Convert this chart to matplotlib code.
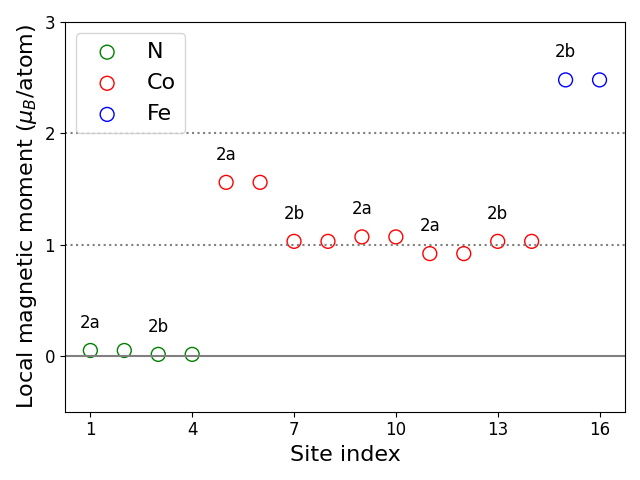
import matplotlib
matplotlib.use("Agg")
import matplotlib.pyplot as plt

sites_N = [1, 2, 3, 4]
mom_N = [0.05, 0.05, 0.015, 0.015]
sites_Co = [5, 6, 7, 8, 9, 10, 11, 12, 13, 14]
mom_Co = [1.56, 1.56, 1.03, 1.03, 1.07, 1.07, 0.92, 0.92, 1.03, 1.03]
sites_Fe = [15, 16]
mom_Fe = [2.48, 2.48]

wyckoff_sites = [1, 3, 5, 7, 9, 11, 13, 15]
wyckoff_labels = ["2a", "2b", "2a", "2b", "2a", "2a", "2b", "2b"]
wyckoff_vals = [0.05, 0.015, 1.56, 1.03, 1.07, 0.92, 1.03, 2.48]

xticks = [1, 4, 7, 10, 13, 16]
yticks = [0, 1, 2, 3]

fig, ax = plt.subplots(figsize=(6.4, 4.8), dpi=100)
ax.axhline(0, color="gray", lw=1.5)
ax.axhline(1, color="gray", ls=":", lw=1.5)
ax.axhline(2, color="gray", ls=":", lw=1.5)
ax.scatter(sites_N, mom_N, s=100, facecolors="none", edgecolors="green", label="N")
ax.scatter(sites_Co, mom_Co, s=100, facecolors="none", edgecolors="red", label="Co")
ax.scatter(sites_Fe, mom_Fe, s=100, facecolors="none", edgecolors="blue", label="Fe")
for xs, lab, v in zip(wyckoff_sites, wyckoff_labels, wyckoff_vals):
    ax.text(xs, v + 0.25, lab, fontsize=12, ha="center", va="center")

ax.set_xlim(0.25, 16.75)
ax.set_ylim(-0.5, 3)
ax.set_xticks(xticks)
ax.set_yticks(yticks)
ax.tick_params(labelsize=12)
ax.set_xlabel("Site index", fontsize=16)
ax.set_ylabel(r"Local magnetic moment ($\mu_B$/atom)", fontsize=16)
ax.legend(loc="upper left", fontsize=16)
fig.tight_layout()
fig.savefig("out.png", dpi=100)
